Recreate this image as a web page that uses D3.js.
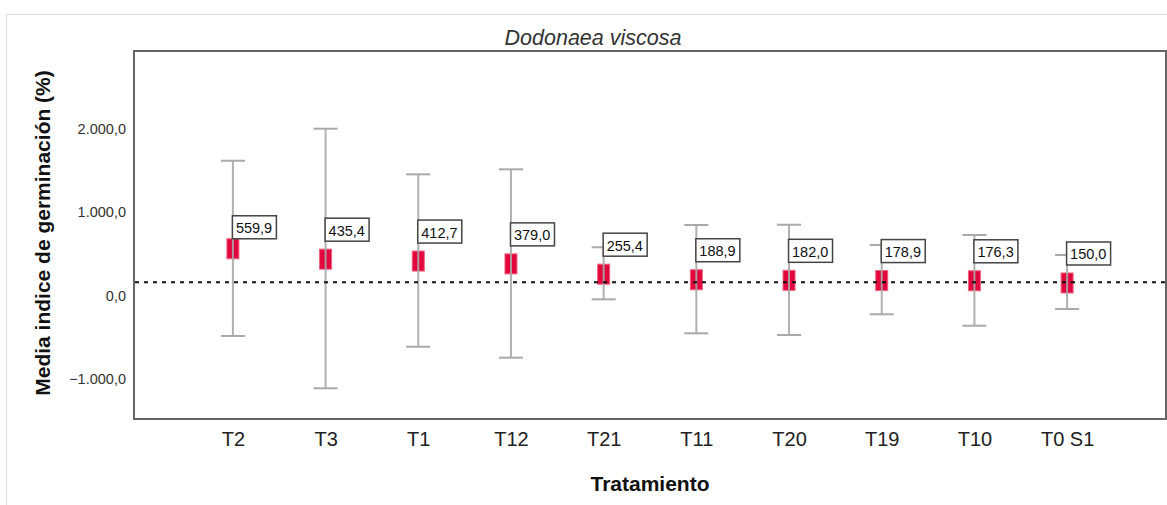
<!DOCTYPE html>
<html>
<head>
<meta charset="utf-8">
<script src="https://cdn.jsdelivr.net/npm/d3@7"></script>
<style>
  html, body { margin: 0; padding: 0; background: #fff; }
  svg { display: block; font-family: "Liberation Sans", Arial, sans-serif; }
</style>
</head>
<body>
<svg id="chart" width="1167" height="505"></svg>
<script>
// ---- data ----
const categories = ["T2", "T3", "T1", "T12", "T21", "T11", "T20", "T19", "T10", "T0 S1"];
const means      = [559.9, 435.4, 412.7, 379.0, 255.4, 188.9, 182.0, 178.9, 176.3, 150.0];
const upperCI    = [1615, 1999, 1452, 1512, 578, 845, 848, 605, 725, 485];
const lowerCI    = [-485, -1112, -614, -745, -46, -453, -473, -225, -362, -162];
const meanLabels = ["559,9", "435,4", "412,7", "379,0", "255,4", "188,9", "182,0", "178,9", "176,3", "150,0"];
const yTicks     = [-1000, 0, 1000, 2000];
const refValue   = 158;
const title      = "Dodonaea viscosa";
const xTitle     = "Tratamiento";
const yTitle     = "Media indice de germinación (%)";

// ---- layout ----
const svg = d3.select("#chart");
const plot = { left: 134, right: 1166, top: 51, bottom: 419 };

const x = d3.scalePoint().domain(categories).range([plot.left, plot.right]).padding(1.067);
const y = d3.scaleLinear().domain([-1480, 2930]).range([plot.bottom, plot.top]);

const locale = d3.formatLocale({ decimal: ",", thousands: ".", grouping: [3], currency: ["", ""] });
const fmt = locale.format(",.1f");

// outer frame
svg.append("rect").attr("x", 6.5).attr("y", 14.5).attr("width", 1200).attr("height", 520)
  .attr("fill", "none").attr("stroke", "#dcdcdc").attr("stroke-width", 1);

// plot frame
svg.append("rect").attr("x", plot.left).attr("y", plot.top)
  .attr("width", plot.right - plot.left).attr("height", plot.bottom - plot.top)
  .attr("fill", "none").attr("stroke", "#666").attr("stroke-width", 2);

// y axis
const yAxis = d3.axisLeft(y).tickValues(yTicks).tickSize(0).tickPadding(8).tickFormat(fmt);
const gy = svg.append("g").attr("transform", `translate(${plot.left},0)`).call(yAxis);
gy.select(".domain").remove();
gy.selectAll("text").attr("font-size", 14.5).attr("fill", "#333")
  .attr("font-family", "Liberation Sans, Arial, sans-serif");

// x axis
const xAxis = d3.axisBottom(x).tickSize(0).tickPadding(13);
const gx = svg.append("g").attr("transform", `translate(0,${plot.bottom})`).call(xAxis);
gx.select(".domain").remove();
gx.selectAll("text").attr("font-size", 20).attr("fill", "#222")
  .attr("font-family", "Liberation Sans, Arial, sans-serif");

// title
svg.append("text").attr("x", 593).attr("y", 45).attr("text-anchor", "middle")
  .attr("font-size", 21.5).attr("font-style", "italic").attr("fill", "#333").text(title);

// axis titles
svg.append("text").attr("x", 650).attr("y", 491).attr("text-anchor", "middle")
  .attr("font-size", 21).attr("font-weight", "bold").attr("fill", "#111").text(xTitle);
svg.append("text").attr("transform", "translate(50,233) rotate(-90)").attr("text-anchor", "middle")
  .attr("font-size", 21).attr("font-weight", "bold").attr("fill", "#111").text(yTitle);

// markers + error bars
const g = svg.append("g");
categories.forEach((c, i) => {
  const cx = x(c);
  const cy = y(means[i]);
  g.append("rect").attr("x", cx - 6).attr("y", cy - 10).attr("width", 12).attr("height", 20)
    .attr("fill", "#e2063c").attr("stroke", "#f0607f").attr("stroke-width", 1);
  const col = "#a9a9a9";
  g.append("line").attr("x1", cx).attr("x2", cx).attr("y1", y(upperCI[i])).attr("y2", y(lowerCI[i]))
    .attr("stroke", col).attr("stroke-width", 2).attr("opacity", 0.9);
  [upperCI[i], lowerCI[i]].forEach(v => {
    g.append("line").attr("x1", cx - 12).attr("x2", cx + 12).attr("y1", y(v)).attr("y2", y(v))
      .attr("stroke", col).attr("stroke-width", 2);
  });
});

// reference dotted line
svg.append("line").attr("x1", plot.left + 1).attr("x2", plot.right - 1)
  .attr("y1", y(refValue)).attr("y2", y(refValue))
  .attr("stroke", "#111").attr("stroke-width", 2).attr("stroke-dasharray", "4,5");

// value labels
categories.forEach((c, i) => {
  const cx = x(c);
  const cy = y(means[i]);
  const top = cy + (i === 0 ? -33 : -41);
  svg.append("rect").attr("x", cx - 0.5).attr("y", top).attr("width", 44).attr("height", 23)
    .attr("fill", "#fff").attr("stroke", "#444").attr("stroke-width", 1.5);
  svg.append("text").attr("x", cx + 3).attr("y", top + 17.5)
    .attr("font-size", 14.5).attr("fill", "#111").text(meanLabels[i]);
});
</script>
</body>
</html>
